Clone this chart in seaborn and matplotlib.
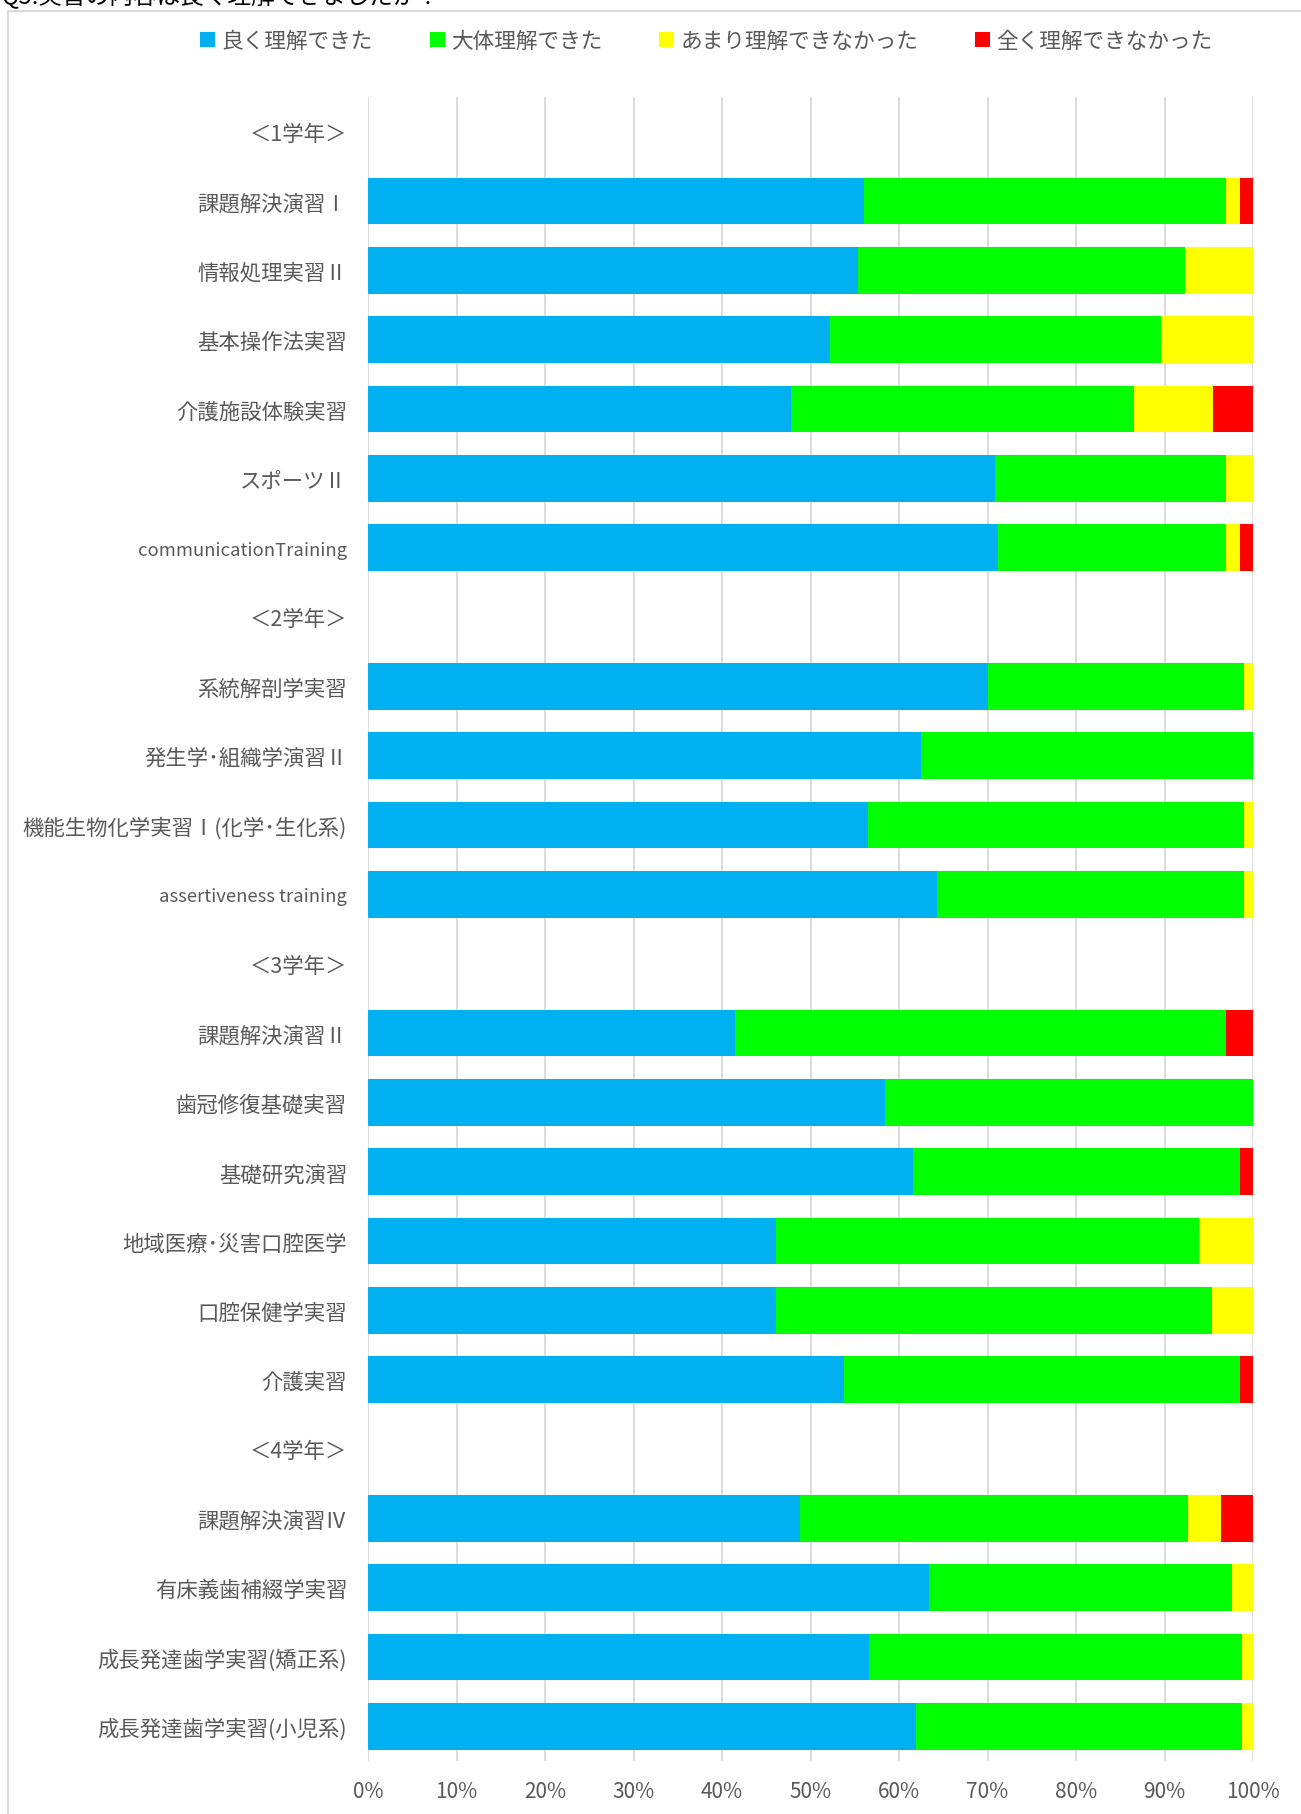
import numpy as np
import pandas as pd
import matplotlib.pyplot as plt
from matplotlib.patches import Rectangle
import seaborn as sns

# --- data (percent of answers per course) ---
courses = [
    "＜1学年＞",
    "課題解決演習Ⅰ", "情報処理実習Ⅱ", "基本操作法実習", "介護施設体験実習",
    "スポーツⅡ", "communicationTraining",
    "＜2学年＞",
    "系統解剖学実習", "発生学･組織学演習Ⅱ", "機能生物化学実習Ⅰ(化学･生化系)",
    "assertiveness training",
    "＜3学年＞",
    "課題解決演習Ⅱ", "歯冠修復基礎実習", "基礎研究演習", "地域医療･災害口腔医学",
    "口腔保健学実習", "介護実習",
    "＜4学年＞",
    "課題解決演習Ⅳ", "有床義歯補綴学実習", "成長発達歯学実習(矯正系)",
    "成長発達歯学実習(小児系)",
]
well = [0, 56.1, 55.4, 52.2, 47.8, 70.8, 71.2,
        0, 70.1, 62.5, 56.5, 64.3,
        0, 41.5, 58.4, 61.6, 46.1, 46.1, 53.8,
        0, 48.8, 63.4, 56.6, 61.9]
mostly = [0, 40.9, 36.9, 37.4, 38.8, 26.2, 25.8,
          0, 28.9, 37.5, 42.5, 34.7,
          0, 55.5, 41.6, 36.9, 47.8, 49.3, 44.7,
          0, 43.9, 34.2, 42.2, 36.9]
little = [0, 1.5, 7.7, 10.4, 8.9, 3.0, 1.5,
          0, 1.0, 0, 1.0, 1.0,
          0, 0, 0, 0, 6.1, 4.6, 0,
          0, 3.7, 2.4, 1.2, 1.2]
notatall = [0, 1.5, 0, 0, 4.5, 0, 1.5,
            0, 0, 0, 0, 0,
            0, 3.0, 0, 1.5, 0, 0, 1.5,
            0, 3.6, 0, 0, 0]

series = ["良く理解できた", "大体理解できた", "あまり理解できなかった", "全く理解できなかった"]
colors = ["#00B0F0", "#00FF00", "#FFFF00", "#FF0000"]

df = pd.DataFrame({"course": courses, series[0]: well, series[1]: mostly,
                   series[2]: little, series[3]: notatall})
cum = df[series].cumsum(axis=1)
cum["course"] = df["course"]

sns.set_style("white")
plt.rcParams["font.family"] = ["Noto Sans CJK JP", "DejaVu Sans"]

fig = plt.figure(figsize=(13.01, 18.15), dpi=100)
ax = fig.add_axes([368 / 1301, 1 - 1762 / 1815, 885 / 1301, 1664 / 1815])

# stacked bars: draw cumulative totals from the back to the front
for name, col in zip(series[::-1], colors[::-1]):
    sns.barplot(data=cum, x=name, y="course", orient="h", color=col,
                saturation=1, width=0.67, errorbar=None, label=name,
                linewidth=0, ax=ax, zorder=3)

ax.set_xlim(0, 100)
ax.set_ylim(len(courses) - 0.5, -0.5)
ax.set_xticks(np.arange(0, 101, 10))
ax.set_xticklabels([f"{v}%" for v in range(0, 101, 10)])
ax.xaxis.grid(True, color="#D9D9D9", linewidth=1.3, zorder=0)
ax.yaxis.grid(False)
ax.set_axisbelow(True)
for s in ax.spines.values():
    s.set_visible(False)
ax.set_xlabel("")
ax.set_ylabel("")
ax.tick_params(axis="y", length=0, pad=15, labelsize=15.4, labelcolor="#595959")
ax.tick_params(axis="x", length=0, pad=14, labelsize=15, labelcolor="#595959")

# latin-only labels are set a bit smaller in the original
for t in ax.get_yticklabels():
    if t.get_text().isascii():
        t.set_fontsize(13.3)

# legend on top
handles, labels = ax.get_legend_handles_labels()
order = [labels.index(s) for s in series]
if ax.legend_:
    ax.legend_.remove()
fig.legend([handles[i] for i in order], series, loc="center",
           bbox_to_anchor=(0.543, 1 - 42 / 1815), ncol=4, frameon=False,
           fontsize=15.6, labelcolor="#595959", handlelength=0.7,
           handleheight=0.7, handletextpad=0.3, columnspacing=2.6)

# chart border and cut-off title
fig.patches.append(Rectangle((8 / 1301, -0.1), 1.2, 1.1 - 12 / 1815,
                             transform=fig.transFigure, fill=False,
                             edgecolor="#D9D9D9", linewidth=1.5))
fig.text(2 / 1301, 1 + 4 / 1815, "Q5.実習の内容は良く理解できましたか？",
         fontsize=17, va="center", ha="left", color="black")

fig.savefig("out.png", dpi=100)
